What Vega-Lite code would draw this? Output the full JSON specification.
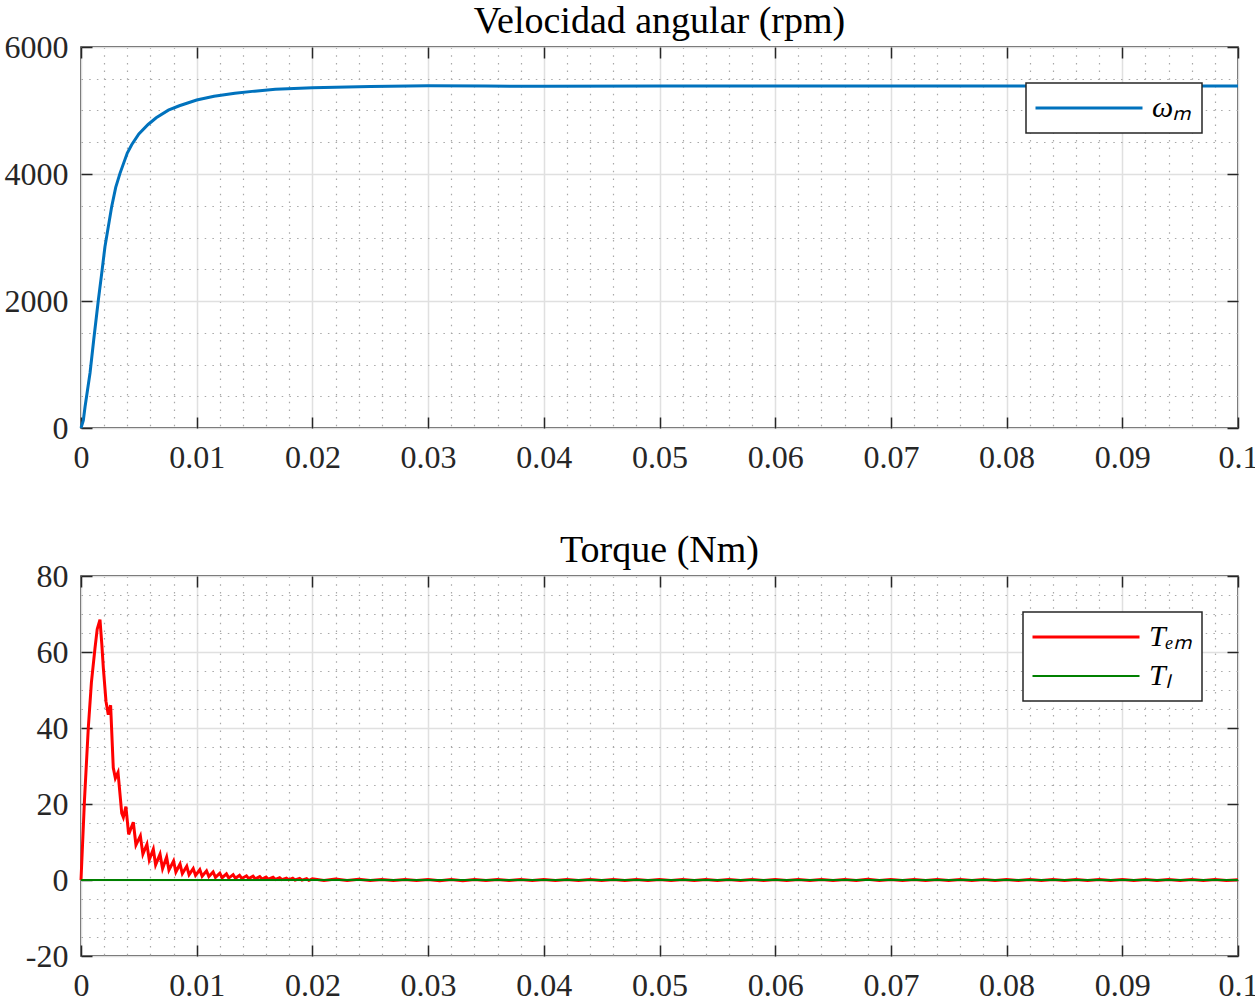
{
  "$schema": "https://vega.github.io/schema/vega-lite/v6.json",
  "padding": {"top": 2, "left": 3, "right": 0, "bottom": 0},
  "config": {
    "font": "Liberation Serif",
    "view": {"stroke": "#262626", "strokeWidth": 1.5},
    "title": {"font": "Liberation Serif", "fontSize": 38, "fontWeight": "normal", "color": "#000000", "offset": -10},
    "axis": {
      "labelFont": "Liberation Serif", "labelFontSize": 32, "labelColor": "#262626",
      "domain": false, "tickColor": "#262626", "tickWidth": 1.5, "tickSize": -11,
      "labelOverlap": false, "labelFlush": false, "title": null
    },
    "legend": {
      "orient": "top-right", "offset": 36, "strokeColor": "#262626", "strokeWidth": 1.5,
      "fillColor": "#ffffff", "padding": 10, "labelFont": "Liberation Serif", "labelFontSize": 30,
      "labelFontStyle": "italic", "labelColor": "#000000", "symbolType": "M-5,0H5", "symbolSize": 458,
      "symbolOffset": 38, "labelOffset": 48, "rowPadding": 9, "title": null
    }
  },
  "datasets": {
    "speed": [
      {"t": 0, "w": 0, "s": "ωₘ"},
      {"t": 0.0002, "w": 120, "s": "ωₘ"},
      {"t": 0.00035, "w": 335, "s": "ωₘ"},
      {"t": 0.00078, "w": 866, "s": "ωₘ"},
      {"t": 0.0011, "w": 1390, "s": "ωₘ"},
      {"t": 0.0015, "w": 2016, "s": "ωₘ"},
      {"t": 0.00179, "w": 2436, "s": "ωₘ"},
      {"t": 0.00207, "w": 2855, "s": "ωₘ"},
      {"t": 0.00265, "w": 3485, "s": "ωₘ"},
      {"t": 0.003, "w": 3790, "s": "ωₘ"},
      {"t": 0.00337, "w": 4010, "s": "ωₘ"},
      {"t": 0.004, "w": 4330, "s": "ωₘ"},
      {"t": 0.00438, "w": 4460, "s": "ωₘ"},
      {"t": 0.005, "w": 4630, "s": "ωₘ"},
      {"t": 0.0058, "w": 4780, "s": "ωₘ"},
      {"t": 0.0065, "w": 4885, "s": "ωₘ"},
      {"t": 0.00755, "w": 5005, "s": "ωₘ"},
      {"t": 0.0085, "w": 5075, "s": "ωₘ"},
      {"t": 0.01, "w": 5165, "s": "ωₘ"},
      {"t": 0.0115, "w": 5225, "s": "ωₘ"},
      {"t": 0.0133, "w": 5270, "s": "ωₘ"},
      {"t": 0.015, "w": 5305, "s": "ωₘ"},
      {"t": 0.0168, "w": 5334, "s": "ωₘ"},
      {"t": 0.02, "w": 5360, "s": "ωₘ"},
      {"t": 0.025, "w": 5378, "s": "ωₘ"},
      {"t": 0.03, "w": 5388, "s": "ωₘ"},
      {"t": 0.035, "w": 5384, "s": "ωₘ"},
      {"t": 0.04, "w": 5383, "s": "ωₘ"},
      {"t": 0.05, "w": 5384, "s": "ωₘ"},
      {"t": 0.06, "w": 5385, "s": "ωₘ"},
      {"t": 0.07, "w": 5386, "s": "ωₘ"},
      {"t": 0.08, "w": 5386, "s": "ωₘ"},
      {"t": 0.09, "w": 5385, "s": "ωₘ"},
      {"t": 0.1, "w": 5385, "s": "ωₘ"}
    ],
    "torque": [
      {"t": 0, "T": 0, "s": "Tₑₘ"},
      {"t": 0.0003, "T": 21, "s": "Tₑₘ"},
      {"t": 0.00063, "T": 40, "s": "Tₑₘ"},
      {"t": 0.0009, "T": 52, "s": "Tₑₘ"},
      {"t": 0.00121, "T": 61, "s": "Tₑₘ"},
      {"t": 0.0014, "T": 66, "s": "Tₑₘ"},
      {"t": 0.00164, "T": 68.5, "s": "Tₑₘ"},
      {"t": 0.0018, "T": 62, "s": "Tₑₘ"},
      {"t": 0.00193, "T": 55.8, "s": "Tₑₘ"},
      {"t": 0.00216, "T": 47, "s": "Tₑₘ"},
      {"t": 0.00236, "T": 43.5, "s": "Tₑₘ"},
      {"t": 0.00256, "T": 46, "s": "Tₑₘ"},
      {"t": 0.00279, "T": 29.5, "s": "Tₑₘ"},
      {"t": 0.00297, "T": 26.8, "s": "Tₑₘ"},
      {"t": 0.0032, "T": 28.3, "s": "Tₑₘ"},
      {"t": 0.00352, "T": 17.6, "s": "Tₑₘ"},
      {"t": 0.00366, "T": 16.5, "s": "Tₑₘ"},
      {"t": 0.00388, "T": 19.3, "s": "Tₑₘ"},
      {"t": 0.00412, "T": 12, "s": "Tₑₘ"},
      {"t": 0.00452, "T": 15.2, "s": "Tₑₘ"},
      {"t": 0.00475, "T": 9.2, "s": "Tₑₘ"},
      {"t": 0.00513, "T": 11.6, "s": "Tₑₘ"},
      {"t": 0.00535, "T": 6.8, "s": "Tₑₘ"},
      {"t": 0.0057, "T": 9.4, "s": "Tₑₘ"},
      {"t": 0.0059, "T": 5.3, "s": "Tₑₘ"},
      {"t": 0.00625, "T": 8.1, "s": "Tₑₘ"},
      {"t": 0.00645, "T": 4.0, "s": "Tₑₘ"},
      {"t": 0.00683, "T": 6.8, "s": "Tₑₘ"},
      {"t": 0.00705, "T": 3.0, "s": "Tₑₘ"},
      {"t": 0.0074, "T": 6.0, "s": "Tₑₘ"},
      {"t": 0.0076, "T": 2.6, "s": "Tₑₘ"},
      {"t": 0.008, "T": 5.0, "s": "Tₑₘ"},
      {"t": 0.0082, "T": 2.1, "s": "Tₑₘ"},
      {"t": 0.00856, "T": 4.2, "s": "Tₑₘ"},
      {"t": 0.00876, "T": 1.7, "s": "Tₑₘ"},
      {"t": 0.00914, "T": 3.6, "s": "Tₑₘ"},
      {"t": 0.00934, "T": 1.4, "s": "Tₑₘ"},
      {"t": 0.0097, "T": 3.0, "s": "Tₑₘ"},
      {"t": 0.0099, "T": 1.2, "s": "Tₑₘ"},
      {"t": 0.01027, "T": 2.7, "s": "Tₑₘ"},
      {"t": 0.01047, "T": 1.0, "s": "Tₑₘ"},
      {"t": 0.01085, "T": 2.4, "s": "Tₑₘ"},
      {"t": 0.01105, "T": 0.9, "s": "Tₑₘ"},
      {"t": 0.01142, "T": 2.1, "s": "Tₑₘ"},
      {"t": 0.01162, "T": 0.7, "s": "Tₑₘ"},
      {"t": 0.012, "T": 1.8, "s": "Tₑₘ"},
      {"t": 0.0122, "T": 0.6, "s": "Tₑₘ"},
      {"t": 0.01257, "T": 1.6, "s": "Tₑₘ"},
      {"t": 0.01277, "T": 0.5, "s": "Tₑₘ"},
      {"t": 0.01315, "T": 1.4, "s": "Tₑₘ"},
      {"t": 0.01335, "T": 0.45, "s": "Tₑₘ"},
      {"t": 0.0137, "T": 1.25, "s": "Tₑₘ"},
      {"t": 0.0139, "T": 0.4, "s": "Tₑₘ"},
      {"t": 0.0143, "T": 1.1, "s": "Tₑₘ"},
      {"t": 0.0145, "T": 0.35, "s": "Tₑₘ"},
      {"t": 0.01487, "T": 1.0, "s": "Tₑₘ"},
      {"t": 0.01507, "T": 0.3, "s": "Tₑₘ"},
      {"t": 0.01545, "T": 0.9, "s": "Tₑₘ"},
      {"t": 0.01565, "T": 0.25, "s": "Tₑₘ"},
      {"t": 0.016, "T": 0.8, "s": "Tₑₘ"},
      {"t": 0.0162, "T": 0.2, "s": "Tₑₘ"},
      {"t": 0.0166, "T": 0.7, "s": "Tₑₘ"},
      {"t": 0.0168, "T": 0.15, "s": "Tₑₘ"},
      {"t": 0.01717, "T": 0.6, "s": "Tₑₘ"},
      {"t": 0.01737, "T": 0.1, "s": "Tₑₘ"},
      {"t": 0.01775, "T": 0.5, "s": "Tₑₘ"},
      {"t": 0.01795, "T": 0.05, "s": "Tₑₘ"},
      {"t": 0.0183, "T": 0.45, "s": "Tₑₘ"},
      {"t": 0.0185, "T": 0.0, "s": "Tₑₘ"},
      {"t": 0.0189, "T": 0.4, "s": "Tₑₘ"},
      {"t": 0.0191, "T": -0.05, "s": "Tₑₘ"},
      {"t": 0.0195, "T": 0.35, "s": "Tₑₘ"},
      {"t": 0.0197, "T": -0.1, "s": "Tₑₘ"},
      {"t": 0.02, "T": 0.3, "s": "Tₑₘ"},
      {"t": 0.021, "T": -0.1, "s": "Tₑₘ"},
      {"t": 0.022, "T": 0.25, "s": "Tₑₘ"},
      {"t": 0.023, "T": -0.1, "s": "Tₑₘ"},
      {"t": 0.024, "T": 0.2, "s": "Tₑₘ"},
      {"t": 0.025, "T": -0.12, "s": "Tₑₘ"},
      {"t": 0.026, "T": 0.15, "s": "Tₑₘ"},
      {"t": 0.027, "T": -0.15, "s": "Tₑₘ"},
      {"t": 0.028, "T": 0.15, "s": "Tₑₘ"},
      {"t": 0.029, "T": -0.15, "s": "Tₑₘ"},
      {"t": 0.03, "T": 0.12, "s": "Tₑₘ"},
      {"t": 0.031, "T": -0.2, "s": "Tₑₘ"},
      {"t": 0.032, "T": 0.1, "s": "Tₑₘ"},
      {"t": 0.033, "T": -0.18, "s": "Tₑₘ"},
      {"t": 0.034, "T": 0.15, "s": "Tₑₘ"},
      {"t": 0.035, "T": -0.15, "s": "Tₑₘ"},
      {"t": 0.036, "T": 0.15, "s": "Tₑₘ"},
      {"t": 0.037, "T": -0.15, "s": "Tₑₘ"},
      {"t": 0.038, "T": 0.15, "s": "Tₑₘ"},
      {"t": 0.039, "T": -0.15, "s": "Tₑₘ"},
      {"t": 0.04, "T": 0.15, "s": "Tₑₘ"},
      {"t": 0.041, "T": -0.15, "s": "Tₑₘ"},
      {"t": 0.042, "T": 0.15, "s": "Tₑₘ"},
      {"t": 0.043, "T": -0.12, "s": "Tₑₘ"},
      {"t": 0.044, "T": 0.15, "s": "Tₑₘ"},
      {"t": 0.045, "T": -0.15, "s": "Tₑₘ"},
      {"t": 0.046, "T": 0.12, "s": "Tₑₘ"},
      {"t": 0.047, "T": -0.15, "s": "Tₑₘ"},
      {"t": 0.048, "T": 0.15, "s": "Tₑₘ"},
      {"t": 0.049, "T": -0.15, "s": "Tₑₘ"},
      {"t": 0.05, "T": 0.12, "s": "Tₑₘ"},
      {"t": 0.051, "T": -0.15, "s": "Tₑₘ"},
      {"t": 0.052, "T": 0.15, "s": "Tₑₘ"},
      {"t": 0.053, "T": -0.12, "s": "Tₑₘ"},
      {"t": 0.054, "T": 0.15, "s": "Tₑₘ"},
      {"t": 0.055, "T": -0.15, "s": "Tₑₘ"},
      {"t": 0.056, "T": 0.12, "s": "Tₑₘ"},
      {"t": 0.057, "T": -0.15, "s": "Tₑₘ"},
      {"t": 0.058, "T": 0.15, "s": "Tₑₘ"},
      {"t": 0.059, "T": -0.12, "s": "Tₑₘ"},
      {"t": 0.06, "T": 0.15, "s": "Tₑₘ"},
      {"t": 0.061, "T": -0.15, "s": "Tₑₘ"},
      {"t": 0.062, "T": 0.12, "s": "Tₑₘ"},
      {"t": 0.063, "T": -0.15, "s": "Tₑₘ"},
      {"t": 0.064, "T": 0.15, "s": "Tₑₘ"},
      {"t": 0.065, "T": -0.12, "s": "Tₑₘ"},
      {"t": 0.066, "T": 0.15, "s": "Tₑₘ"},
      {"t": 0.067, "T": -0.15, "s": "Tₑₘ"},
      {"t": 0.068, "T": 0.18, "s": "Tₑₘ"},
      {"t": 0.069, "T": -0.12, "s": "Tₑₘ"},
      {"t": 0.07, "T": 0.15, "s": "Tₑₘ"},
      {"t": 0.071, "T": -0.15, "s": "Tₑₘ"},
      {"t": 0.072, "T": 0.15, "s": "Tₑₘ"},
      {"t": 0.073, "T": -0.12, "s": "Tₑₘ"},
      {"t": 0.074, "T": 0.15, "s": "Tₑₘ"},
      {"t": 0.075, "T": -0.15, "s": "Tₑₘ"},
      {"t": 0.076, "T": 0.12, "s": "Tₑₘ"},
      {"t": 0.077, "T": -0.15, "s": "Tₑₘ"},
      {"t": 0.078, "T": 0.15, "s": "Tₑₘ"},
      {"t": 0.079, "T": -0.12, "s": "Tₑₘ"},
      {"t": 0.08, "T": 0.15, "s": "Tₑₘ"},
      {"t": 0.081, "T": -0.15, "s": "Tₑₘ"},
      {"t": 0.082, "T": 0.12, "s": "Tₑₘ"},
      {"t": 0.083, "T": -0.15, "s": "Tₑₘ"},
      {"t": 0.084, "T": 0.15, "s": "Tₑₘ"},
      {"t": 0.085, "T": -0.12, "s": "Tₑₘ"},
      {"t": 0.086, "T": 0.15, "s": "Tₑₘ"},
      {"t": 0.087, "T": -0.15, "s": "Tₑₘ"},
      {"t": 0.088, "T": 0.12, "s": "Tₑₘ"},
      {"t": 0.089, "T": -0.15, "s": "Tₑₘ"},
      {"t": 0.09, "T": 0.15, "s": "Tₑₘ"},
      {"t": 0.091, "T": -0.12, "s": "Tₑₘ"},
      {"t": 0.092, "T": 0.15, "s": "Tₑₘ"},
      {"t": 0.093, "T": -0.15, "s": "Tₑₘ"},
      {"t": 0.094, "T": 0.12, "s": "Tₑₘ"},
      {"t": 0.095, "T": -0.15, "s": "Tₑₘ"},
      {"t": 0.096, "T": 0.15, "s": "Tₑₘ"},
      {"t": 0.097, "T": -0.12, "s": "Tₑₘ"},
      {"t": 0.098, "T": 0.15, "s": "Tₑₘ"},
      {"t": 0.099, "T": -0.15, "s": "Tₑₘ"},
      {"t": 0.1, "T": 0.05, "s": "Tₑₘ"}
    ],
    "load": [
      {"t": 0, "T": 0, "s": "Tₗ"},
      {"t": 0.1, "T": 0, "s": "Tₗ"}
    ]
  },
  "spacing": 57,
  "vconcat": [
    {
      "title": "Velocidad angular (rpm)",
      "width": 1157,
      "height": 381,
      "data": {"name": "speed"},
      "layer": [
        {
          "mark": {"type": "line", "strokeWidth": 3},
          "encoding": {
            "x": {"field": "t", "type": "quantitative", "scale": {"domain": [0, 0.1], "nice": false, "zero": false},
              "axis": {"orient": "bottom", "labelPadding": 25,
                "values": [0,0.002,0.004,0.006,0.008,0.01,0.012,0.014,0.016,0.018,0.02,0.022,0.024,0.026,0.028,0.03,0.032,0.034,0.036,0.038,0.04,0.042,0.044,0.046,0.048,0.05,0.052,0.054,0.056,0.058,0.06,0.062,0.064,0.066,0.068,0.07,0.072,0.074,0.076,0.078,0.08,0.082,0.084,0.086,0.088,0.09,0.092,0.094,0.096,0.098,0.1],
                "grid": true,
                "labelExpr": "abs(datum.value*100 - round(datum.value*100)) > 1e-6 ? '' : '' + round(datum.value*100)/100",
                "gridDash": {"condition": {"test": "abs(datum.value*100 - round(datum.value*100)) > 1e-6", "value": [1.5, 6.2]}, "value": []},
                "gridColor": {"condition": {"test": "abs(datum.value*100 - round(datum.value*100)) > 1e-6", "value": "#a8a8a8"}, "value": "#e0e0e0"},
                "gridWidth": {"condition": {"test": "abs(datum.value*100 - round(datum.value*100)) > 1e-6", "value": 1.2}, "value": 1.5},
                "tickOpacity": {"condition": {"test": "abs(datum.value*100 - round(datum.value*100)) > 1e-6", "value": 0}, "value": 1}
              }},
            "y": {"field": "w", "type": "quantitative", "scale": {"domain": [0, 6000], "nice": false, "zero": false},
              "axis": {"orient": "left", "labelPadding": 24,
                "values": [0,500,1000,1500,2000,2500,3000,3500,4000,4500,5000,5500,6000],
                "grid": true,
                "labelExpr": "datum.value % 2000 != 0 ? '' : '' + datum.value",
                "gridDash": {"condition": {"test": "datum.value % 2000 != 0", "value": [1.5, 6.2]}, "value": []},
                "gridColor": {"condition": {"test": "datum.value % 2000 != 0", "value": "#a8a8a8"}, "value": "#e0e0e0"},
                "gridWidth": {"condition": {"test": "datum.value % 2000 != 0", "value": 1.2}, "value": 1.5},
                "tickOpacity": {"condition": {"test": "datum.value % 2000 != 0", "value": 0}, "value": 1}
              }},
            "color": {"field": "s", "type": "nominal", "scale": {"domain": ["ωₘ"], "range": ["#0072BD"]}, "legend": {"title": null, "symbolStrokeWidth": 3}}
          }
        },
        {
          "mark": {"type": "line", "strokeOpacity": 0},
          "encoding": {
            "x": {"field": "t", "type": "quantitative", "axis": {"orient": "top", "values": [0,0.01,0.02,0.03,0.04,0.05,0.06,0.07,0.08,0.09,0.1], "labels": false, "grid": false}},
            "y": {"field": "w", "type": "quantitative", "axis": {"orient": "right", "values": [0,2000,4000,6000], "labels": false, "grid": false}}
          }
        }
      ],
      "resolve": {"axis": {"x": "independent", "y": "independent"}}
    },
    {
      "title": "Torque (Nm)",
      "width": 1157,
      "height": 380,
      "layer": [
        {
          "data": {"name": "torque"},
          "mark": {"type": "line"},
          "encoding": {
            "x": {"field": "t", "type": "quantitative", "scale": {"domain": [0, 0.1], "nice": false, "zero": false},
              "axis": {"orient": "bottom", "labelPadding": 25,
                "values": [0,0.002,0.004,0.006,0.008,0.01,0.012,0.014,0.016,0.018,0.02,0.022,0.024,0.026,0.028,0.03,0.032,0.034,0.036,0.038,0.04,0.042,0.044,0.046,0.048,0.05,0.052,0.054,0.056,0.058,0.06,0.062,0.064,0.066,0.068,0.07,0.072,0.074,0.076,0.078,0.08,0.082,0.084,0.086,0.088,0.09,0.092,0.094,0.096,0.098,0.1],
                "grid": true,
                "labelExpr": "abs(datum.value*100 - round(datum.value*100)) > 1e-6 ? '' : '' + round(datum.value*100)/100",
                "gridDash": {"condition": {"test": "abs(datum.value*100 - round(datum.value*100)) > 1e-6", "value": [1.5, 6.2]}, "value": []},
                "gridColor": {"condition": {"test": "abs(datum.value*100 - round(datum.value*100)) > 1e-6", "value": "#a8a8a8"}, "value": "#e0e0e0"},
                "gridWidth": {"condition": {"test": "abs(datum.value*100 - round(datum.value*100)) > 1e-6", "value": 1.2}, "value": 1.5},
                "tickOpacity": {"condition": {"test": "abs(datum.value*100 - round(datum.value*100)) > 1e-6", "value": 0}, "value": 1}
              }},
            "y": {"field": "T", "type": "quantitative", "scale": {"domain": [-20, 80], "nice": false, "zero": false},
              "axis": {"orient": "left", "labelPadding": 24,
                "values": [-20,-15,-10,-5,0,5,10,15,20,25,30,35,40,45,50,55,60,65,70,75,80],
                "grid": true,
                "labelExpr": "datum.value % 20 != 0 ? '' : '' + datum.value",
                "gridDash": {"condition": {"test": "datum.value % 20 != 0", "value": [1.5, 6.2]}, "value": []},
                "gridColor": {"condition": {"test": "datum.value % 20 != 0", "value": "#a8a8a8"}, "value": "#e0e0e0"},
                "gridWidth": {"condition": {"test": "datum.value % 20 != 0", "value": 1.2}, "value": 1.5},
                "tickOpacity": {"condition": {"test": "datum.value % 20 != 0", "value": 0}, "value": 1}
              }},
            "color": {"field": "s", "type": "nominal", "scale": {"domain": ["Tₑₘ", "Tₗ"], "range": ["#FF0000", "#008000"]}, "legend": {"title": null}},
            "strokeWidth": {"field": "s", "type": "nominal", "scale": {"domain": ["Tₑₘ", "Tₗ"], "range": [3, 1.8]}, "legend": {"title": null}}
          }
        },
        {
          "data": {"name": "load"},
          "mark": {"type": "line"},
          "encoding": {
            "x": {"field": "t", "type": "quantitative", "axis": null},
            "y": {"field": "T", "type": "quantitative", "axis": null},
            "color": {"field": "s", "type": "nominal"},
            "strokeWidth": {"field": "s", "type": "nominal"}
          }
        },
        {
          "data": {"name": "load"},
          "mark": {"type": "line", "strokeOpacity": 0},
          "encoding": {
            "x": {"field": "t", "type": "quantitative", "axis": {"orient": "top", "values": [0,0.01,0.02,0.03,0.04,0.05,0.06,0.07,0.08,0.09,0.1], "labels": false, "grid": false}},
            "y": {"field": "T", "type": "quantitative", "axis": {"orient": "right", "values": [-20,0,20,40,60,80], "labels": false, "grid": false}}
          }
        }
      ],
      "resolve": {"axis": {"x": "independent", "y": "independent"}}
    }
  ],
  "resolve": {"scale": {"color": "independent", "strokeWidth": "independent"}, "legend": {"color": "independent", "strokeWidth": "independent"}}
}
